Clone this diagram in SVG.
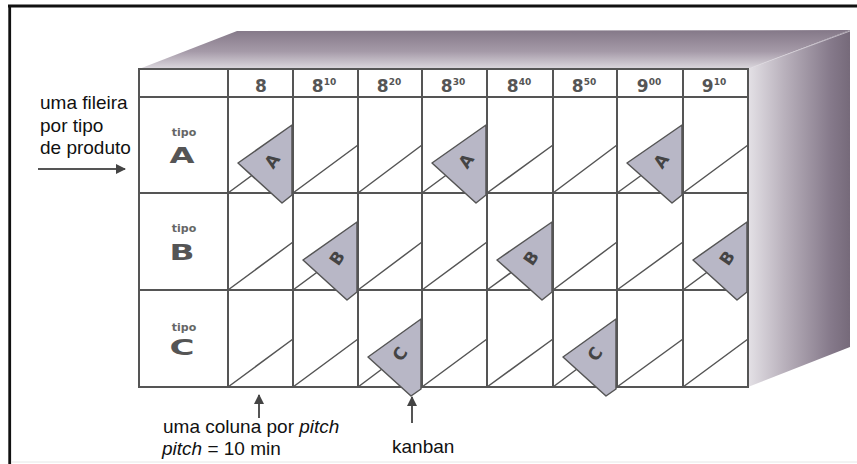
<svg xmlns="http://www.w3.org/2000/svg" width="857" height="464" viewBox="0 0 857 464">
<defs>
<linearGradient id="gTop" x1="0" y1="30" x2="0" y2="69" gradientUnits="userSpaceOnUse">
<stop offset="0" stop-color="#847888"/>
<stop offset="0.55" stop-color="#a59aa8"/>
<stop offset="1" stop-color="#dcd8de"/>
</linearGradient>
<linearGradient id="gSide" x1="748" y1="0" x2="852" y2="0" gradientUnits="userSpaceOnUse">
<stop offset="0" stop-color="#e4e1e6"/>
<stop offset="0.35" stop-color="#b9b1bc"/>
<stop offset="0.8" stop-color="#85798a"/>
<stop offset="1" stop-color="#746878"/>
</linearGradient>
<marker id="ah" viewBox="0 0 10 10" refX="9" refY="5" markerWidth="11" markerHeight="10" markerUnits="userSpaceOnUse" orient="auto">
<path d="M0,0 L10,5 L0,10 Z" fill="#444"/>
</marker>
<style>
.grid{fill:none;stroke:#555;stroke-width:2}
.diag{stroke:#555;stroke-width:1.5;fill:none}
.card{fill:#b8b7c6;stroke:#555;stroke-width:1.5;stroke-linejoin:round}
.cardtxt{font-family:"DejaVu Sans",sans-serif;font-weight:bold;font-size:17px;fill:#444;text-anchor:middle;dominant-baseline:central}
.hdr{font-family:"DejaVu Sans",sans-serif;font-weight:bold;font-size:17px;fill:#555;text-anchor:middle}
.sup{font-size:9px}
.tipo{font-family:"DejaVu Sans",sans-serif;font-weight:bold;font-size:11px;fill:#666;text-anchor:middle}
.big{font-family:"DejaVu Sans",sans-serif;font-weight:bold;font-size:22px;fill:#555;text-anchor:middle}
.lbl{font-family:"Liberation Sans",Arial,sans-serif;font-size:19px;fill:#111}
.conn{stroke:#555;stroke-width:2;fill:none}
</style>
</defs>
<rect width="857" height="464" fill="#fff"/>
<!-- frame -->
<path d="M8,6 H857 M9.7,5 V464" stroke="#111" stroke-width="2.8" fill="none"/>
<line x1="11" y1="462" x2="857" y2="462" stroke="#e6e6e6" stroke-width="1"/>
<!-- 3D box -->
<g id="box">
<polygon points="139,69 237,31 850,30 748,69" fill="url(#gTop)"/>
<polygon points="748,69 850,30 850,347 748,387" fill="url(#gSide)"/>
<line x1="750" y1="68" x2="850" y2="31" stroke="#ddd8df" stroke-width="1" opacity="0.7"/>
</g>
<!-- grid -->
<g id="board">
<rect x="139" y="69" width="609" height="318" fill="#fff"/>
<g class="diag">
<path d="M228,193 L293,145 M293,193 L358,145 M358,193 L422,145 M422,193 L487,145 M487,193 L553,145 M553,193 L617,145 M617,193 L683,145 M683,193 L748,145"/>
<path d="M228,290 L293,242 M293,290 L358,242 M358,290 L422,242 M422,290 L487,242 M487,290 L553,242 M553,290 L617,242 M617,290 L683,242 M683,290 L748,242"/>
<path d="M228,387 L293,339 M293,387 L358,339 M358,387 L422,339 M422,387 L487,339 M487,387 L553,339 M553,387 L617,339 M617,387 L683,339 M683,387 L748,339"/>
</g>
<rect class="grid" x="139" y="69" width="609" height="318"/>
<path class="grid" d="M228,69 V387 M293,69 V387 M358,69 V387 M422,69 V387 M487,69 V387 M553,69 V387 M617,69 V387 M683,69 V387 M139,97 H748 M139,193 H748 M139,290 H748"/>
</g>
<!-- header -->
<g id="header">
<text class="hdr" x="261" y="92">8</text>
<text class="hdr" x="324" y="92">8<tspan class="sup" dy="-7">10</tspan></text>
<text class="hdr" x="389" y="92">8<tspan class="sup" dy="-7">20</tspan></text>
<text class="hdr" x="453" y="92">8<tspan class="sup" dy="-7">30</tspan></text>
<text class="hdr" x="519" y="92">8<tspan class="sup" dy="-7">40</tspan></text>
<text class="hdr" x="584" y="92">8<tspan class="sup" dy="-7">50</tspan></text>
<text class="hdr" x="649" y="92">9<tspan class="sup" dy="-7">00</tspan></text>
<text class="hdr" x="714" y="92">9<tspan class="sup" dy="-7">10</tspan></text>
</g>
<!-- row labels -->
<g id="rowA">
<text class="tipo" x="184" y="136">tipo</text>
<text class="big" x="182" y="163" textLength="25" lengthAdjust="spacingAndGlyphs">A</text>
</g>
<g id="rowB">
<text class="tipo" x="184" y="232">tipo</text>
<text class="big" x="182" y="260" textLength="25" lengthAdjust="spacingAndGlyphs">B</text>
</g>
<g id="rowC">
<text class="tipo" x="184" y="331">tipo</text>
<text class="big" x="182" y="355" textLength="25" lengthAdjust="spacingAndGlyphs">C</text>
</g>
<!-- kanban cards -->
<g id="cardA1"><polygon class="card" points="238,163 292,125 292,195 282,203"/><text class="cardtxt" transform="translate(272,161) rotate(-55)">A</text></g>
<g id="cardA2"><polygon class="card" points="432,163 486,125 486,195 476,203"/><text class="cardtxt" transform="translate(466,161) rotate(-55)">A</text></g>
<g id="cardA3"><polygon class="card" points="627,163 682,125 682,195 672,203"/><text class="cardtxt" transform="translate(661,161) rotate(-55)">A</text></g>
<g id="cardB1"><polygon class="card" points="303,260 357,222 357,292 347,300"/><text class="cardtxt" transform="translate(337,258) rotate(-55)">B</text></g>
<g id="cardB2"><polygon class="card" points="497,260 552,222 552,292 542,300"/><text class="cardtxt" transform="translate(531,258) rotate(-55)">B</text></g>
<g id="cardB3"><polygon class="card" points="693,260 747,222 747,292 737,300"/><text class="cardtxt" transform="translate(727,258) rotate(-55)">B</text></g>
<g id="cardC1"><polygon class="card" points="368,357 421,319 421,389 411,396"/><text class="cardtxt" transform="translate(400,354) rotate(-55)">C</text></g>
<g id="cardC2"><polygon class="card" points="563,357 616,319 616,389 606,396"/><text class="cardtxt" transform="translate(595,354) rotate(-55)">C</text></g>
<!-- annotations -->
<g id="note-row">
<text class="lbl" x="40" y="109">uma fileira</text>
<text class="lbl" x="40" y="132">por tipo</text>
<text class="lbl" x="40" y="154">de produto</text>
</g>
<g id="note-pitch">
<text class="lbl" x="163" y="433">uma coluna por <tspan font-style="italic">pitch</tspan></text>
<text class="lbl" x="162" y="455"><tspan font-style="italic">pitch</tspan> = 10 min</text>
</g>
<g id="note-kanban">
<text class="lbl" x="392" y="453">kanban</text>
</g>
<g id="connectors">
<line class="conn" x1="38" y1="169" x2="125" y2="169" marker-end="url(#ah)"/>
<line class="conn" x1="259" y1="418" x2="259" y2="395" marker-end="url(#ah)"/>
<line class="conn" x1="412" y1="423" x2="412" y2="397" marker-end="url(#ah)"/>
</g>
</svg>
